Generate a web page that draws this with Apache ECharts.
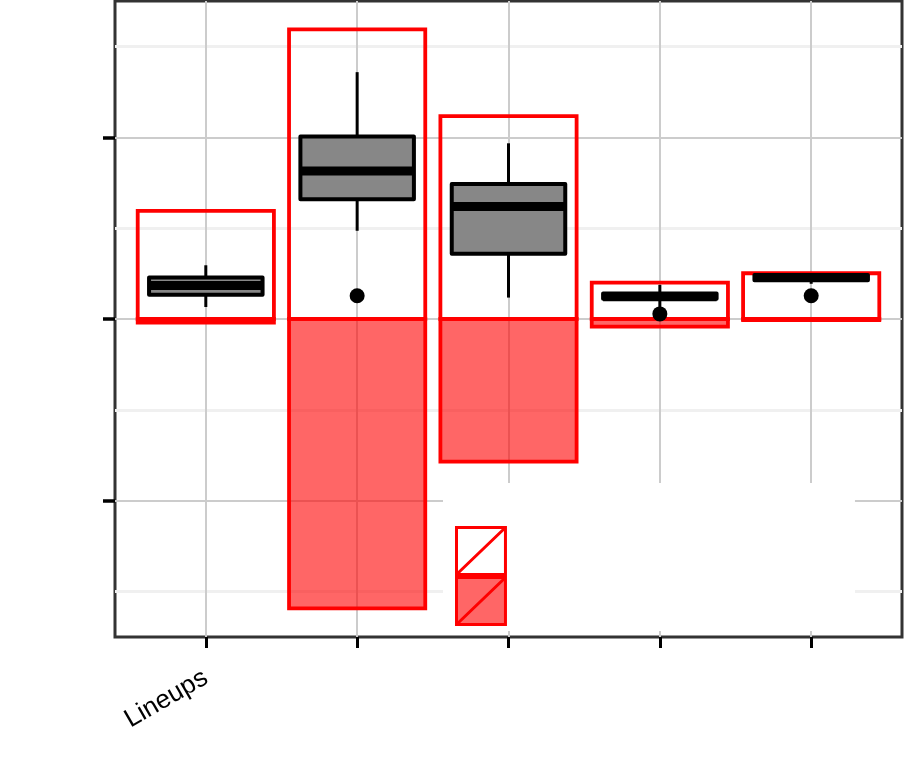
<!DOCTYPE html>
<html>
<head>
<meta charset="utf-8">
<script src="https://cdn.jsdelivr.net/npm/echarts@6/dist/echarts.min.js"></script>
<style>
html,body{margin:0;padding:0;background:#fff;}
#chart{width:906px;height:765px;}
</style>
</head>
<body>
<div id="chart"></div>
<script>
// ---- data ----
const categories = ['Lineups', '', '', '', ''];
const seriesNames = ['Positive', 'Negative'];
const positiveValues = [0.298, 0.798, 0.559, 0.100, 0.126];
const negativeValues = [-0.010, -0.797, -0.393, -0.021, -0.003];
const whiskerLow = [0.033, 0.243, 0.059, 0.026, 0.097];
const boxQ1 = [0.067, 0.330, 0.180, 0.056, 0.107];
const boxMedian = [0.092, 0.408, 0.310, 0.061, 0.114];
const boxQ3 = [0.114, 0.503, 0.372, 0.070, 0.121];
const whiskerHigh = [0.148, 0.680, 0.484, 0.094, 0.125];
const pointValues = [null, 0.064, null, 0.014, 0.064];
const yMajorTicks = [-0.5, 0, 0.5];
const yMinorTicks = [-0.75, -0.25, 0.25, 0.75];
const xTickPositions = [1, 2, 3, 4, 5];

const RED = '#ff0000';
const BAR_HALF = 0.45;
const BOX_HALF = 0.375;
const Y_MIN = -0.876, Y_MAX = 0.876;

const barData = (vals) => vals.map((v, i) => [i + 1, v]);
const boxData = categories.map((c, i) => [i + 1, whiskerLow[i], boxQ1[i], boxMedian[i], boxQ3[i], whiskerHigh[i]]);
const pointData = [];
pointValues.forEach((v, i) => { if (v !== null) pointData.push([i + 1, v]); });

function barRender(fill) {
  return function (params, api) {
    const x = api.value(0), v = api.value(1);
    const p1 = api.coord([x - BAR_HALF, 0]);
    const p2 = api.coord([x + BAR_HALF, v]);
    return {
      type: 'rect',
      shape: { x: Math.min(p1[0], p2[0]), y: Math.min(p1[1], p2[1]), width: Math.abs(p2[0] - p1[0]), height: Math.abs(p2[1] - p1[1]) },
      style: { fill: fill, stroke: RED, lineWidth: 3.8 }
    };
  };
}

function boxRender(params, api) {
  const x = api.value(0);
  const lo = api.coord([x, api.value(1)]);
  const q1 = api.coord([x, api.value(2)]);
  const med = api.coord([x, api.value(3)]);
  const q3 = api.coord([x, api.value(4)]);
  const hi = api.coord([x, api.value(5)]);
  const left = api.coord([x - BOX_HALF, 0])[0];
  const right = api.coord([x + BOX_HALF, 0])[0];
  return {
    type: 'group',
    children: [
      { type: 'line', shape: { x1: lo[0], y1: lo[1], x2: hi[0], y2: hi[1] }, style: { stroke: '#000', lineWidth: 3 } },
      { type: 'rect', shape: { x: left, y: q3[1], width: right - left, height: q1[1] - q3[1] },
        style: { fill: '#878787', stroke: '#000', lineWidth: 4, lineJoin: 'round' } },
      { type: 'line', shape: { x1: left, y1: med[1], x2: right, y2: med[1] }, style: { stroke: '#000', lineWidth: 9 } }
    ]
  };
}

const chart = echarts.init(document.getElementById('chart'), null, { renderer: 'canvas' });
chart.setOption({
  animation: false,
  backgroundColor: '#fff',
  grid: { left: 115, right: 4, top: 1, bottom: 128, show: true, borderColor: '#333', borderWidth: 3, backgroundColor: 'transparent' },
  xAxis: {
    type: 'value', min: 0.4, max: 5.6,
    axisLine: { show: false, onZero: false },
    axisTick: { show: true, customValues: xTickPositions, length: 11, lineStyle: { color: '#000', width: 3 } },
    axisLabel: {
      show: true, customValues: xTickPositions, rotate: 30, margin: 39,
      fontFamily: 'Liberation Sans', fontSize: 26, color: '#000',
      formatter: (v) => categories[Math.round(v) - 1] || ''
    },
    splitLine: { show: true, lineStyle: { color: '#cccccc', width: 2 } }
  },
  yAxis: [
    {
      type: 'value', min: Y_MIN, max: Y_MAX, z: 1,
      axisLine: { show: false, onZero: false },
      axisTick: { show: true, customValues: yMajorTicks, length: 12, lineStyle: { color: '#000', width: 3.5 } },
      axisLabel: { show: false, customValues: yMajorTicks },
      splitLine: { show: true, lineStyle: { color: '#cccccc', width: 2 } }
    },
    {
      type: 'value', min: Y_MIN, max: Y_MAX, position: 'left', z: 0,
      axisLine: { show: false, onZero: false },
      axisTick: { show: false, customValues: yMinorTicks },
      axisLabel: { show: false, customValues: yMinorTicks },
      splitLine: { show: true, lineStyle: { color: '#f0f0f0', width: 3 } }
    }
  ],
  legend: {
    left: 443, top: 483, orient: 'vertical',
    itemWidth: 50, itemHeight: 47, itemGap: 0,
    backgroundColor: '#fff', padding: [43, 348, 5, 12],
    selectedMode: false,
    formatter: () => '',
    data: [
      { name: seriesNames[0], icon: 'path://M0,0L50,0L50,48L0,48ZM0,48L50,0', itemStyle: { color: '#ffffff', borderColor: RED, borderWidth: 3 } },
      { name: seriesNames[1], icon: 'path://M0,0L50,0L50,48L0,48ZM0,48L50,0', itemStyle: { color: 'rgba(255,0,0,0.6)', borderColor: RED, borderWidth: 3 } }
    ]
  },
  series: [
    {
      type: 'custom', name: seriesNames[1], z: 2, silent: true,
      renderItem: barRender('rgba(255,0,0,0.6)'),
      itemStyle: { color: 'rgba(255,0,0,0.6)' },
      encode: { x: 0, y: 1 },
      data: barData(negativeValues)
    },
    {
      type: 'custom', name: seriesNames[0], z: 3, silent: true,
      renderItem: barRender('none'),
      itemStyle: { color: '#fff' },
      encode: { x: 0, y: 1 },
      data: barData(positiveValues)
    },
    {
      type: 'custom', name: 'box', z: 4, silent: true,
      renderItem: boxRender,
      encode: { x: 0, y: [1, 2, 3, 4, 5] },
      data: boxData
    },
    {
      type: 'scatter', name: 'points', z: 5, silent: true,
      symbol: 'circle', symbolSize: 15,
      itemStyle: { color: '#000', opacity: 1 },
      data: pointData
    }
  ]
});
</script>
</body>
</html>
